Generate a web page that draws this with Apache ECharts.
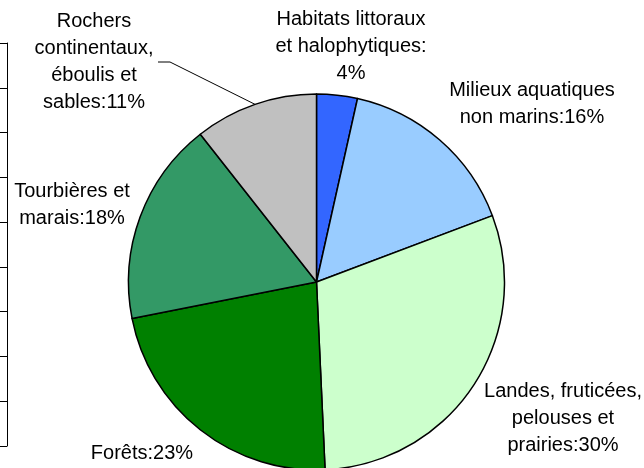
<!DOCTYPE html>
<html>
<head>
<meta charset="utf-8" />
<script src="https://cdn.jsdelivr.net/npm/echarts@6/dist/echarts.min.js"></script>
<style>
  html, body { margin: 0; padding: 0; background: #fff; }
  #chart { width: 644px; height: 468px; }
</style>
</head>
<body>
<div id="chart"></div>
<script>
// categories, in clockwise order from 12 o'clock
const categories = [
  'Habitats littoraux\net halophytiques',
  'Milieux aquatiques\nnon marins',
  'Landes, fruticées,\npelouses et\nprairies',
  'Forêts',
  'Tourbières et\nmarais',
  'Rochers\ncontinentaux,\néboulis et\nsables'
]
// slice sizes
const values = [3.5, 15.75, 30.0, 22.6, 17.5, 10.6]
// percentages as printed in the labels
const percents = [4, 16, 30, 23, 18, 11]
const colors = ['#3366FF', '#99CCFF', '#CCFFCC', '#008000', '#339966', '#C0C0C0']

// the clipped axis on the far left (10 ticks)
const sideTicks = [0, 1, 2, 3, 4, 5, 6, 7, 8, 9]

// where each label block sits (center)
const labelPos = [
  [351, 46],
  [532, 104],
  [563, 418],
  [142, 453],
  [72, 205],
  [94, 62]
]

const chart = echarts.init(document.getElementById('chart'))

chart.setOption({
  animation: false,
  textStyle: { fontFamily: 'Liberation Sans, Arial, sans-serif' },
  grid: { left: 7, top: 43, bottom: 22, width: 1 },
  xAxis: { type: 'value', show: false },
  yAxis: {
    type: 'value',
    min: sideTicks[0],
    max: sideTicks[sideTicks.length - 1],
    interval: 1,
    axisLine: { show: true, lineStyle: { color: '#000', width: 1 } },
    axisTick: { show: true, inside: false, length: 7, lineStyle: { color: '#000', width: 1 } },
    axisLabel: { show: false },
    splitLine: { show: false }
  },
  series: [
    {
      type: 'pie',
      center: [316.5, 282],
      radius: 188,
      startAngle: 90,
      clockwise: true,
      itemStyle: { borderColor: '#000', borderWidth: 1.5 },
      label: {
        show: true,
        position: 'outside',
        color: '#000',
        fontSize: 20,
        lineHeight: 27,
        align: 'center',
        overflow: 'none',
        fontFamily: 'Liberation Sans, Arial, sans-serif',
        formatter: (p) => p.name + ':' + (p.dataIndex === 0 ? '\n' : '') + percents[p.dataIndex] + '%'
      },
      labelLine: { show: false },
      labelLayout: (params) => {
        const pos = labelPos[params.dataIndex]
        const out = { x: pos[0], y: pos[1], align: 'center', verticalAlign: 'middle' }
        // only the grey slice has a leader line
        if (params.dataIndex === 5 && params.labelLinePoints) {
          out.labelLinePoints = [params.labelLinePoints[0], [170, 62], [158, 62]]
        }
        return out
      },
      data: categories.map((name, i) => ({
        name: name,
        value: values[i],
        itemStyle: { color: colors[i] },
        labelLine: i === 5 ? { show: true, length: 10, length2: 10, lineStyle: { color: '#000', width: 1 } } : { show: false }
      }))
    }
  ]
})
</script>
</body>
</html>
